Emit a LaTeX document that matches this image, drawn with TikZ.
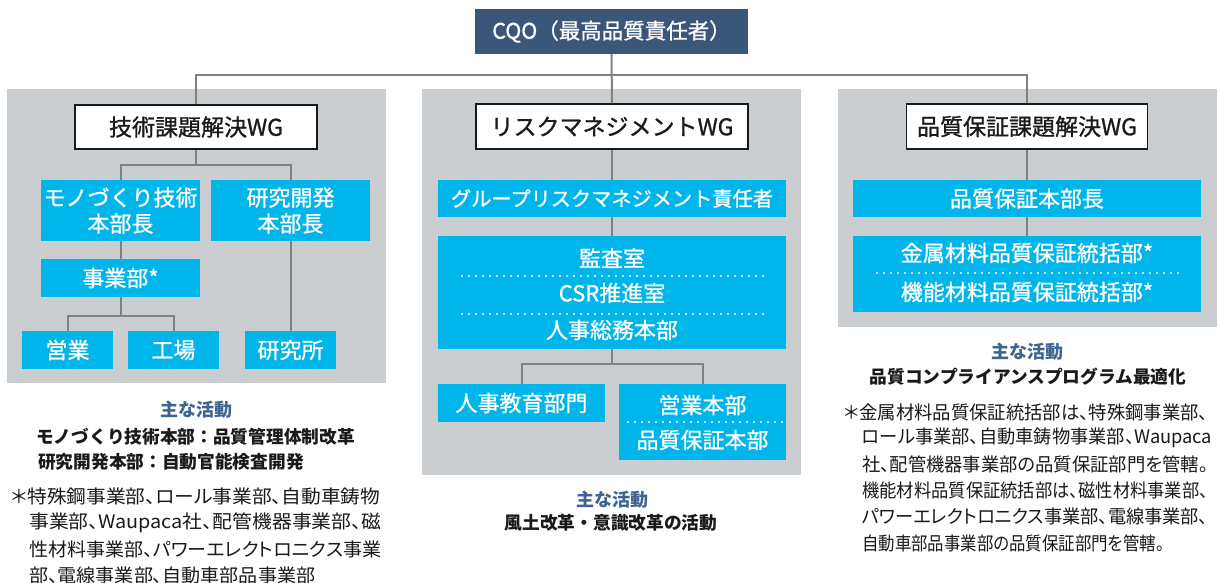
\documentclass[tikz,border=0pt]{standalone}
\usepackage{fontspec}
\usepackage{graphicx}
\setmainfont{Noto Sans CJK JP}
\newfontfamily\jpmed{Noto Sans CJK JP}[FakeBold=1]
\newfontfamily\jpprop{Noto Sans CJK JP}[RawFeature=+palt]
\definecolor{navy}{RGB}{58,86,121}
\definecolor{cyanbox}{RGB}{0,181,234}
\definecolor{panelgray}{RGB}{203,206,209}
\definecolor{conngray}{RGB}{127,130,131}
\definecolor{headblue}{RGB}{62,101,144}
\definecolor{ink}{RGB}{26,26,26}
\newcommand{\fs}[1]{\fontsize{#1}{#1}\selectfont}
\newsavebox\fitbox
\newcommand{\fitw}[2]{\sbox\fitbox{#2}\pgfmathsetmacro\fitf{#1/\wd\fitbox}\scalebox{\fitf}[1]{\usebox\fitbox}}
\begin{document}
\begin{tikzpicture}[x=1pt,y=-1pt,
  topbox/.style={fill=navy,text=white,inner sep=0pt,font=\jpmed\fs{21.5}},
  wgbox/.style={fill=white,draw=ink,line width=1.5pt,inner sep=0pt,text=ink,font=\jpmed\fs{23}},
  bluebox/.style={fill=cyanbox,text=white,inner sep=0pt,font=\jpmed\fs{22}},
  btext/.style={text=white,inner sep=0pt,font=\jpmed\fs{22}},
  conn/.style={draw=conngray,line width=2pt},
  dots/.style={draw=white,line width=2.2pt,dash pattern=on 0pt off 7pt,line cap=round},
  head/.style={text=headblue,inner sep=0pt,font=\fs{18}\bfseries},
  boldline/.style={text=ink,inner sep=0pt,font=\fs{17.7}\bfseries},
  note/.style={text=ink,inner sep=0pt,font=\jpprop\fs{18.6},anchor=west}]
\useasboundingbox (0,0) rectangle (1217,583);
\fill[white] (0,0) rectangle (1217,583);
% panels
\fill[panelgray] (7,89) rectangle (386,383);
\fill[panelgray] (422,89) rectangle (801,475);
\fill[panelgray] (838,89) rectangle (1217,327);
% top
\node[topbox,minimum width=273pt,minimum height=45pt] (cqo) at (611.5,31.5) {CQO（最高品質責任者）};
\node[wgbox,minimum width=242pt,minimum height=44pt] (wg1) at (196,127) {技術課題解決WG};
\node[wgbox,minimum width=272pt,minimum height=45pt] (wg2) at (612,126.5) {リスクマネジメントWG};
\node[wgbox,minimum width=241pt,minimum height=45pt] (wg3) at (1027,126.5) {品質保証課題解決WG};
\coordinate (hub) at (612,75);
% left
\node[bluebox,minimum width=159pt,minimum height=61pt,align=center] (mono) at (120.5,210.5) {モノづくり技術\\[4pt]本部長};
\node[bluebox,minimum width=159pt,minimum height=61pt,align=center] (kaihatsu) at (290.5,210.5) {研究開発\\[4pt]本部長};
\node[bluebox,minimum width=159pt,minimum height=38pt] (jigyo) at (120.5,278) {事業部*};
\node[bluebox,minimum width=91pt,minimum height=38pt] (eigyo) at (67.5,350) {営業};
\node[bluebox,minimum width=91pt,minimum height=38pt] (kojo) at (173.5,350) {工場};
\node[bluebox,minimum width=91pt,minimum height=38pt] (kenkyusho) at (290.5,350) {研究所};
% middle
\node[bluebox,minimum width=348pt,minimum height=37pt,font=\jpmed\fs{20.2}] (grm) at (612,198.5) {グループリスクマネジメント責任者};
\node[bluebox,minimum width=348pt,minimum height=113pt] (big) at (612,292.5) {};
\node[btext] (kansa) at (612,258) {監査室};
\node[btext] (csr) at (612,293) {CSR推進室};
\node[btext] (jinjisomu) at (612,330) {人事総務本部};
\draw[dots] (462,276) -- (764,276);
\draw[dots] (462,314) -- (764,314);
\node[bluebox,minimum width=167pt,minimum height=38pt] (jinji) at (521.5,403) {人事教育部門};
\node[bluebox,minimum width=167pt,minimum height=76pt] (eh) at (702.5,422) {};
\node[btext] (eigyohq) at (702.5,405) {営業本部};
\node[btext] (qahq) at (702.5,440) {品質保証本部};
\draw[dots] (628,422) -- (783,422);
% right
\node[bluebox,minimum width=348pt,minimum height=37pt] (qah) at (1027,198.5) {品質保証本部長};
\node[bluebox,minimum width=348pt,minimum height=76pt] (qbig) at (1027,274) {};
\node[btext] (kinzoku) at (1027,253) {金属材料品質保証統括部*};
\node[btext] (kino) at (1027,292) {機能材料品質保証統括部*};
\draw[dots] (877,273) -- (1180,273);
% connectors
\draw[conn] (cqo.south) -- (wg2.north);
\draw[conn] (hub) -| (wg1.north);
\draw[conn] (hub) -| (wg3.north);
\draw[conn] (wg1.south) -- ++(0,15) -| (mono.north);
\draw[conn] (wg1.south) -- ++(0,15) -| (kaihatsu.north);
\draw[conn] (mono.south) -- (jigyo.north);
\draw[conn] (jigyo.south) -- ++(0,19) -| (eigyo.north);
\draw[conn] (jigyo.south) -- ++(0,19) -| (kojo.north);
\draw[conn] (kaihatsu.south) -- (kenkyusho.north);
\draw[conn] (wg2.south) -- (grm.north);
\draw[conn] (grm.south) -- (big.north);
\draw[conn] (big.south) -- ++(0,15) -| (jinji.north);
\draw[conn] (big.south) -- ++(0,15) -| (eh.north);
\draw[conn] (wg3.south) -- (qah.north);
\draw[conn] (qah.south) -- (qbig.north);
% activities left
\node[head] (h1) at (196,410) {主な活動};
\node[boldline,anchor=west] (a1) at (36,437) {モノづくり技術本部：品質管理体制改革};
\node[boldline,anchor=west] (a2) at (38,462) {研究開発本部：自動官能検査開発};
\node[note] (n1) at (11,496) {\fitw{369}{＊特殊鋼事業部、ロール事業部、自動車鋳物}};
\node[note] (n2) at (29,523) {\fitw{352}{事業部、Waupaca社、配管機器事業部、磁}};
\node[note] (n3) at (29,549) {\fitw{352}{性材料事業部、パワーエレクトロニクス事業}};
\node[note] (n4) at (29,575) {\fitw{286}{部、電線事業部、自動車部品事業部}};
% activities middle
\node[head] (h2) at (612,500) {主な活動};
\node[boldline] (a3) at (611,523) {風土改革・意識改革の活動};
% activities right
\node[head] (h3) at (1027,352) {主な活動};
\node[boldline] (a4) at (1028,377) {品質コンプライアンスプログラム最適化};
\node[note] (r1) at (844,412) {\fitw{364}{＊金属材料品質保証統括部は、特殊鋼事業部、}};
\node[note] (r2) at (862,438) {\fitw{350}{ロール事業部、自動車鋳物事業部、Waupaca}};
\node[note] (r3) at (862,464) {\fitw{346}{社、配管機器事業部の品質保証部門を管轄。}};
\node[note] (r4) at (862,490) {\fitw{346}{機能材料品質保証統括部は、磁性材料事業部、}};
\node[note] (r5) at (862,516) {\fitw{346}{パワーエレクトロニクス事業部、電線事業部、}};
\node[note] (r6) at (862,543) {\fitw{302}{自動車部品事業部の品質保証部門を管轄。}};
\end{tikzpicture}
\end{document}
